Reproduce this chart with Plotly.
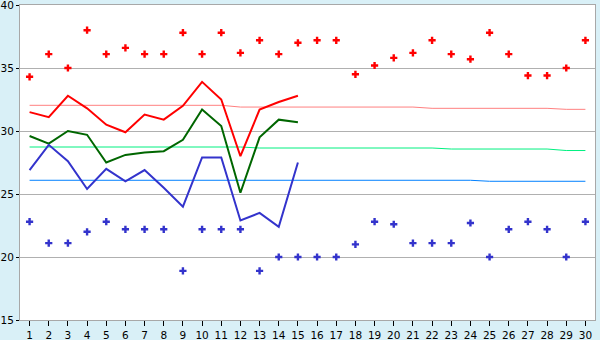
import plotly.graph_objects as go

days = list(range(1, 31))

rec_max = [34.3, 36.1, 35.0, 38.0, 36.1, 36.6, 36.1, 36.1, 37.8, 36.1,
           37.8, 36.2, 37.2, 36.1, 37.0, 37.2, 37.2, 34.5, 35.2, 35.8,
           36.2, 37.2, 36.1, 35.7, 37.8, 36.1, 34.4, 34.4, 35.0, 37.2]
rec_min = [22.8, 21.1, 21.1, 22.0, 22.8, 22.2, 22.2, 22.2, 18.9, 22.2,
           22.2, 22.2, 18.9, 20.0, 20.0, 20.0, 20.0, 21.0, 22.8, 22.6,
           21.1, 21.1, 21.1, 22.7, 20.0, 22.2, 22.8, 22.2, 20.0, 22.8]

obs_days = list(range(1, 16))
obs_max = [31.5, 31.1, 32.8, 31.8, 30.5, 29.9, 31.3, 30.9, 32.0, 33.9,
           32.5, 28.0, 31.7, 32.3, 32.8]
obs_mean = [29.6, 29.0, 30.0, 29.7, 27.5, 28.1, 28.3, 28.4, 29.3, 31.7,
            30.4, 25.1, 29.5, 30.9, 30.7]
obs_min = [26.9, 28.9, 27.6, 25.4, 27.0, 26.0, 26.9, 25.5, 24.0, 27.9,
           27.9, 22.9, 23.5, 22.4, 27.5]

norm_max = [32.04] * 11 + [31.9] * 10 + [31.8] * 7 + [31.72] * 2
norm_mean = [28.73] * 12 + [28.65] * 10 + [28.57] * 6 + [28.45] * 2
norm_min = [26.09] * 24 + [26.01] * 6

y_ticks = [15, 20, 25, 30, 35, 40]

fig = go.Figure()

fig.add_trace(go.Scatter(x=days, y=norm_max, mode="lines",
                         line=dict(color="#FF8080", width=1)))
fig.add_trace(go.Scatter(x=days, y=norm_mean, mode="lines",
                         line=dict(color="#00F080", width=1)))
fig.add_trace(go.Scatter(x=days, y=norm_min, mode="lines",
                         line=dict(color="#0080FF", width=1)))

fig.add_trace(go.Scatter(x=obs_days, y=obs_max, mode="lines",
                         line=dict(color="#FF0000", width=2)))
fig.add_trace(go.Scatter(x=obs_days, y=obs_mean, mode="lines",
                         line=dict(color="#006600", width=2)))
fig.add_trace(go.Scatter(x=obs_days, y=obs_min, mode="lines",
                         line=dict(color="#3333CC", width=2)))

fig.add_trace(go.Scatter(x=days, y=rec_max, mode="markers",
                         marker=dict(symbol="cross", size=6, color="#FF0000",
                                     line=dict(width=0))))
fig.add_trace(go.Scatter(x=days, y=rec_min, mode="markers",
                         marker=dict(symbol="cross", size=6, color="#3333CC",
                                     line=dict(width=0))))

fig.update_layout(
    width=600, height=340,
    margin=dict(l=20, r=5, t=5, b=20, autoexpand=False),
    paper_bgcolor="#D9F0F7",
    plot_bgcolor="#FFFFFF",
    showlegend=False,
    font=dict(family="DejaVu Sans", size=10.5, color="#000000"),
)
fig.update_xaxes(
    range=[0.5, 30.5], tickmode="array", tickvals=days,
    ticktext=[str(d) for d in days], automargin=False,
    showgrid=False, zeroline=False,
    showline=True, linecolor="#A8A8A8", linewidth=1, mirror=True,
    ticks="outside", ticklen=5, tickcolor="#000000",
    tickfont=dict(size=10.5), ticklabeloverflow="allow",
)
fig.update_yaxes(
    range=[15, 40], tickmode="array", tickvals=y_ticks,
    ticktext=[str(v) for v in y_ticks], automargin=False,
    showgrid=True, gridcolor="#B0B0B0", gridwidth=1, zeroline=False,
    showline=True, linecolor="#A8A8A8", linewidth=1, mirror=True,
    ticks="outside", ticklen=3, tickcolor="#000000",
    tickfont=dict(size=10.5), ticklabeloverflow="allow",
)

fig.write_html(
    "out.html",
    config={"displayModeBar": False},
    post_script="document.body.style.margin='0';document.body.style.padding='0';",
)
